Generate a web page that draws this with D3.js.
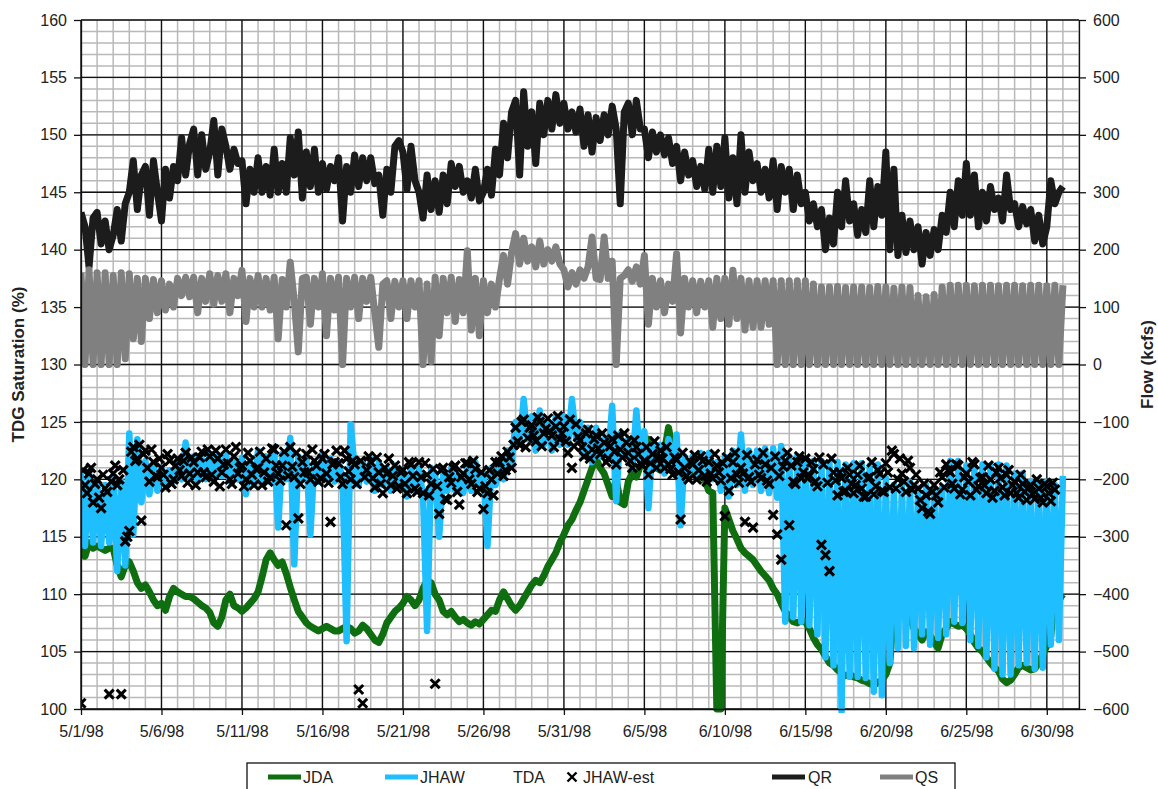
<!DOCTYPE html>
<meta charset="utf-8">
<style>
body {
  margin: 0;
  background: #fff;
}
svg text {
  font-family: Arial, "Liberation Sans", sans-serif;
  fill: #222;
}
.minor line {
  stroke: #b9b9b9;
  stroke-width: 1.5px;
}
.major line {
  stroke: #111;
  stroke-width: 1.3px;
}
.axis path, .axis line {
  stroke: #111;
  stroke-width: 1.3px;
}
.axis text {
  font-size: 16px;
}
.series {
  fill: none;
  stroke-linejoin: round;
}
.title {
  font-size: 17px;
  font-weight: bold;
}
.legend text {
  font-size: 16px;
}
</style>
<body>
<script src="https://d3js.org/d3.v7.min.js"></script>
<script>

var width = 1158,
    height = 789;

// series are sampled every 6 hours starting 5/1/98 00:00
var startDate = new Date(1998, 4, 1),
    endDate = new Date(1998, 6, 2),
    stepHours = 6;

var seriesNames = ["JDA", "JHAW", "TDA", "JHAW-est", "QR", "QS"];
var dateTicks = ["5/1/98", "5/6/98", "5/11/98", "5/16/98", "5/21/98", "5/26/98", "5/31/98",
                 "6/5/98", "6/10/98", "6/15/98", "6/20/98", "6/25/98", "6/30/98"];
var tdgTicks = [100, 105, 110, 115, 120, 125, 130, 135, 140, 145, 150, 155, 160];
var flowTicks = [-600, -500, -400, -300, -200, -100, 0, 100, 200, 300, 400, 500, 600];

// QR - river flow (kcfs), right axis
var qrFlow = [
  265, 240, 170, 255,  265, 210, 250, 200,  225, 270, 215, 280,  300, 355, 270, 330,
  345, 260, 355, 300,  250, 340, 290, 345,  320, 395, 330, 385,  410, 330, 400, 340,
  370, 425, 330, 410,  380, 340, 375, 350,  355, 280, 340, 300,  360, 300, 345, 295,
  375, 300, 350, 300,  395, 330, 405, 290,  370, 310, 375, 300,  350, 305, 345, 320,
  360, 250, 345, 300,  365, 310, 360, 320,  360, 315, 330, 260,  340, 300, 380, 390,
  370, 305, 380, 320,  300, 255, 330, 270,  320, 265, 330, 280,  350, 310, 345, 300,
  320, 290, 340, 285,  300, 340, 295, 375,  330, 420, 360, 440,  460, 330, 475, 380,
  440, 350, 455, 400,  460, 410, 470, 420,  455, 410, 440, 405,  445, 380, 435, 370,
  430, 390, 435, 400,  450, 410, 280, 440,  455, 400, 460, 410,  410, 360, 405, 370,
  400, 365, 395, 350,  380, 320, 370, 330,  355, 310, 345, 305,  375, 300, 380, 310,
  395, 290, 360, 280,  400, 300, 370, 320,  350, 300, 340, 290,  355, 270, 345, 300,
  340, 270, 330, 280,  300, 250, 280, 240,  270, 200, 255, 210,  300, 240, 320, 250,
  280, 225, 270, 230,  320, 240, 310, 260,  370, 200, 340, 190,  260, 195, 250, 200,
  240, 175, 230, 190,  235, 200, 260, 230,  300, 240, 320, 260,  350, 260, 330, 240,
  300, 250, 310, 270,  290, 250, 330, 270,  280, 240, 275, 245,  270, 215, 260, 210,
  240, 320, 280, 300,  310
];

// QS - spill (kcfs), right axis
var qsFlow = [
  160, 0, 165, 0,  160, 0, 160, 0,  155, 0, 160, 10,  158, 45, 150, 40,
  150, 80, 148, 90,  146, 95, 140, 100,  150, 120, 152, 118,  152, 90, 150, 110,
  158, 105, 155, 110,  158, 90, 150, 120,  164, 75, 150, 100,  155, 100, 150, 95,
  152, 45, 148, 100,  178, 110, 22, 150,  152, 70, 150, 100,  158, 50, 150, 95,
  152, 0, 150, 100,  152, 80, 150, 110,  152, 90, 30, 140,  146, 80, 145, 100,
  146, 80, 146, 100,  146, 0, 140, 5,  152, 50, 150, 90,  152, 75, 148, 90,
  198, 60, 150, 50,  146, 90, 140, 100,  150, 190, 140, 195,  228, 175, 220, 180,
  205, 170, 215, 175,  200, 180, 205, 175,  165, 135, 160, 140,  165, 150, 170, 222,
  150, 148, 222, 150,  180, 0, 150, 155,  165, 145, 170, 140,  190, 70, 150, 100,
  146, 90, 140, 110,  193, 55, 150, 100,  146, 90, 145, 100,  146, 65, 150, 80,
  150, 70, 164, 80,  150, 60, 146, 65,  146, 65, 146, 70,  146, 0, 146, 0,
  146, 0, 146, 0,  146, 0, 140, 0,  135, 0, 135, 0,  136, 0, 134, 0,
  135, 0, 135, 0,  134, 0, 136, 0,  135, 0, 133, 0,  135, 0, 134, 0,
  120, 0, 118, 0,  122, 0, 135, 0,  138, 0, 138, 0,  138, 0, 137, 0,
  138, 0, 138, 0,  137, 0, 138, 0,  138, 0, 137, 0,  138, 0, 138, 0,
  137, 0, 138, 0,  138
];

// JDA - TDG saturation (%), left axis
var jdaTdg = [
  115, 113.3, 114.5, 114,  114.2, 114, 113.8, 114,  114, 112.5, 111.5, 112.5,  112.8, 112, 111, 110.5,
  110.8, 110.2, 109.5, 109,  109.2, 108.6, 109.8, 110.5,  110.2, 110, 109.8, 109.8,  109.6, 109.3, 109, 108.8,
  108.4, 107.5, 107.2, 108,  109.5, 110, 109, 108.8,  108.5, 108.8, 109.2, 109.6,  110.2, 111.5, 113, 113.6,
  113, 112.5, 112.8, 111.8,  110.6, 109.5, 108.5, 108,  107.5, 107.2, 107, 106.8,  107, 107.2, 107, 106.8,
  106.8, 107, 107.2, 107,  106.6, 106.8, 107.3, 107,  106.5, 106, 105.8, 106.5,  107.5, 108, 108.5, 108.8,
  109.2, 109.8, 109.5, 109,  109.5, 110.5, 111.2, 111,  110, 109.5, 108.5, 108.2,  108.5, 108, 107.6, 107.8,
  107.5, 107.3, 107.6, 107.4,  107.8, 108.2, 108.6, 108.5,  109.5, 110.2, 109.6, 109,  108.6, 109, 109.6, 110.2,
  110.8, 111.2, 111, 111.6,  112.4, 113, 113.6, 114.5,  115.2, 116, 116.5, 117.3,  118, 119, 120, 121,
  121.8, 121, 120.5, 119.5,  118.5, 120, 118, 117.8,  119.8, 120.5, 120.2, 121.2,  121.5, 123.5, 122, 121,
  120.8, 122.5, 124.5, 122.5,  121.6, 121, 121.2, 120.8,  120.5, 120.2, 120.6, 120,  119, 118.8, 100, 100,
  117.5, 116.5, 115.5, 114.8,  114, 113.6, 113.3, 113,  112.5, 112, 111.6, 111.2,  110.5, 110, 109.2, 108.5,
  108, 107.6, 107.5, 107.7,  107.6, 107, 106.2, 105.6,  105.2, 104.6, 104, 103.8,  103.4, 103.1, 102.9, 103,
  102.8, 102.7, 102.5, 102.4,  102.2, 102.1, 102.3, 102.5,  103, 104, 109, 111,  110, 109, 108, 107,
  106.5, 106, 106.7, 106.4,  105.8, 105.3, 106.5, 107,  107.6, 107.4, 107.2, 107.3,  107, 106.5, 105.8, 105.3,
  105, 104.5, 104, 103.6,  103.3, 102.6, 102.3, 102.5,  103, 103.6, 103.8, 103.6,  103.4, 103.5, 104, 104.8,
  105.5, 106.3, 110.5, 109.5,  110
];

// JHAW - TDG saturation (%), left axis
var jhawTdg = [
  120.8, 114.2, 120.5, 114.5,  119.8, 114.2, 119.5, 114.5,  120.2, 112, 119.8, 112.5,  124, 115.2, 123.5, 118,
  121.6, 118.7, 121.2, 119,  121, 119.5, 120.8, 119.8,  121.5, 120, 123.2, 120.2,  122, 119.8, 121.8, 120,
  122.2, 120, 122, 120.3,  122.2, 119.8, 121.5, 120,  121.9, 118.7, 121.5, 119.5,  122.5, 120, 122, 119.8,
  122.5, 115.8, 122.2, 120,  123.6, 112.6, 122, 120,  122, 115.2, 121.5, 119.8,  122.2, 120, 121.8, 119.8,
  121.5, 120, 105.9, 124.8,  121, 119.5, 121.5, 119.8,  121.8, 119, 121.5, 119.5,  121, 119, 121.2, 119.5,
  120.8, 118.5, 121, 119,  121, 118.5, 106.8, 121,  120.5, 115, 120.5, 119,  121, 119, 120.5, 118.8,
  121, 119, 121.5, 119.5,  120.5, 114.2, 121, 119.5,  121.5, 120, 122.5, 121.5,  125, 123, 127, 123.5,
  125.5, 122.5, 126, 123,  125, 122.5, 125.5, 123,  125.5, 123, 127, 123.5,  125, 122, 124.5, 121.5,
  124.5, 122, 123.5, 122,  126.4, 118.1, 124, 122,  123.5, 121, 126, 121.5,  124.2, 117.5, 123, 121,
  123, 120.5, 123.5, 121,  123.9, 116, 122, 120.5,  122, 120.5, 122.3, 120.2,  122.3, 120, 121.5, 119,
  122, 118.5, 122.5, 119.5,  123.9, 119, 122.5, 119.5,  122.5, 119, 122.7, 118.8,  122.7, 118.4, 122.9, 107.6,
  122, 108, 122, 107.6,  121.6, 107.3, 121.6, 106.5,  121.6, 104.5, 121.4, 103.8,  121.5, 99.8, 121.3, 102.8,
  121.4, 102.8, 121.4, 102.7,  121.2, 101.5, 121.3, 101.2,  120.1, 104, 119.5, 105.3,  119.5, 105.5, 119.8, 105.3,
  119.2, 106.5, 119.5, 105.6,  119.2, 106.2, 119.3, 106.5,  121.6, 107.6, 121.6, 107.5,  121.2, 106, 121, 105.5,
  121.3, 104.5, 121.2, 103.5,  121.3, 103, 121.2, 103,  120.5, 103.8, 120.5, 104,  119.8, 103.5, 119.8, 103.6,
  119.8, 105.6, 119.5, 106,  120.3
];

// TDA - no readings in this period
var tdaTdg = [];

// JHAW-est - estimated TDG (%), left axis, drawn as x markers
// readings on the hour (00, 06, 12, 18)
var jhawEst = [
  100.5, 119.5, 120.5, 118,  120, 117.5, 119.2, 101.3,  120.5, 119.5, 101.3, 114.6,  115.5, 122.8, 121.8, 116.4,
  122.5, 119.8, 121.5, 120.2,  121, 119.3, 121.6, 120,  121.8, 120.3, 122.3, 120.5,  121.5, 120.6, 122.4, 120.2,
  122, 119.8, 121.8, 120.6,  122.6, 120, 122, 120.5,  121.2, 120, 121.6, 119.5,  121, 119.5, 121.8, 120.2,
  122.6, 120.5, 121.2, 116,  122.8, 120.2, 116.6, 121.5,  122.2, 120, 121.6, 119.8,  121.8, 120.5, 116.3, 121.5,
  121.4, 119.6, 121.8, 120,  121.3, 101.7, 100.5, 120.8,  121.5, 119.3, 120.6, 118.8,  120.5, 119.5, 121.2, 119.4,
  120.8, 118.8, 121.3, 119.2,  121.5, 118.8, 120.4, 119.6,  102.2, 117, 121, 118.2,  119.7, 121.2, 117.8, 120.5,
  121.4, 119.6, 120.9, 119.2,  117.4, 118.8, 120, 121.5,  121.5, 120.3, 122.4, 121,  124.5, 123, 125.2, 123.6,
  124.7, 123.3, 125, 124,  125.3, 123.8, 124.6, 123.5,  124.6, 122.3, 121, 124.8,  123.4, 122, 124.3, 122.6,
  123.8, 122.2, 123.2, 121.8,  123.5, 121.3, 122.6, 124,  122.3, 121, 122.8, 121.4,  121.6, 120.4, 122.2, 121,
  122.5, 121, 121.3, 120.4,  121.7, 116.5, 121, 120,  121.3, 120, 122, 120.3,  121.5, 120.1, 121.2, 119.9,
  116.8, 119, 121.5, 120.4,  121, 116.3, 120.2, 115.8,  121.7, 120.1, 121.3, 119.6,  116.9, 115.2, 113, 121.6,
  116, 119.8, 121.5, 120.1,  121.8, 120.3, 120.9, 119.4,  114.3, 113.4, 112, 120.6,  118.6, 120.1, 119, 120.4,
  118.8, 120.4, 119.2, 118.5,  120.2, 118.7, 120.8, 119,  121.4, 119.3, 122.2, 120,  120.5, 118.9, 121, 119.5,
  119.2, 117.5, 118.6, 117,  119.5, 118, 120.2, 121.3,  120.6, 119.2, 121.2, 119.1,  120.5, 118.6, 121.3, 119.4,
  120.2, 118.8, 120, 119,  121, 119.3, 120.4, 118.8,  119.8, 118.4, 119.6, 118.2,  119.5, 118.3, 119.2, 118,
  119.4, 118.1, 119.1
];

// readings three hours later (03, 09, 15, 21)
var jhawEstLate = [
  120.8, 118.8, 121, 119.6,  118.4, 120.4, 118.9, 119.8,  121.2, 120, 120.8, 115,  122.4, 121.6, 123, 122.2,
  121, 122.6, 120.3, 121.8,  120.4, 122.2, 119.6, 121.2,  120.8, 121.6, 119.7, 121.9,  119.5, 121.9, 120.6, 122.6,
  120.4, 122.5, 119.4, 121.3,  121.4, 119.6, 122.8, 121,  119.4, 122.3, 120.4, 120.9,  122.4, 120.6, 119.8, 122.7,
  121.2, 119.9, 122.4, 120.3,  121.1, 122.3, 119.6, 120.6,  120.6, 122.6, 121.2, 120.1,  122.2, 119.7, 121.3, 122.5,
  120.2, 122.5, 120.7, 121.6,  119.6, 121.6, 120.2, 122,  120.1, 121.9, 119.6, 121,  121.8, 120.3, 119.2, 120.6,
  119.6, 121.5, 120.3, 118.9,  120.2, 121.4, 118.6, 120.9,  119.4, 120.8, 118.3, 120.2,  121, 118.9, 120.2, 121.4,
  120, 121.6, 118.9, 120.6,  119.4, 120.8, 118.6, 120.5,  122, 120.8, 121.9, 123,  123.3, 125, 122.8, 124.5,
  123.8, 125.4, 122.9, 124.4,  124.2, 122.8, 125.5, 124,  123.3, 125.2, 122.9, 123.7,  122.8, 124, 121.8, 123.5,
  122.7, 124, 121.5, 122.9,  122.4, 123.8, 121.9, 123.2,  121.6, 123.4, 122.2, 121.2,  122.8, 121.4, 123.3, 121.8,
  121.8, 122.8, 120.9, 121.9,  120.6, 122.3, 120.3, 121.5,  122.1, 120.8, 121.6, 119.8,  120.5, 122.2, 120.6, 121.4,
  121.9, 120.1, 122.3, 119.7,  120.5, 122.1, 119.8, 121.3,  120.4, 122.3, 119.9, 121,  122, 120.3, 121.1, 122.3,
  121.2, 119.6, 122, 120.6,  120.1, 121.5, 119.8, 121.9,  121.3, 119.7, 121.8, 119.9,  120.6, 118.9, 121, 119.6,
  119.5, 121.2, 118.5, 120.1,  121.5, 119.4, 120.5, 118.9,  120.6, 122.5, 119.2, 121.8,  119.8, 121.6, 119.1, 120.4,
  118.2, 119.6, 117.2, 118.9,  118.6, 120.6, 119.3, 120.8,  119.6, 121.3, 118.7, 120.2,  119.8, 121.5, 119.1, 120.1,
  119.5, 121.2, 118.4, 120.6,  120.1, 118.6, 120.8, 119.5,  118.8, 120.4, 118.9, 119.3,  118.7, 120, 118.4, 119.6,
  118.8, 119.7
];

var plotLeft = 81, plotRight = 1079, plotTop = 20, plotBottom = 709;

var svg = d3.select("body").append("svg")
    .attr("width", width)
    .attr("height", height);

var x = d3.scaleTime()
    .domain([startDate, endDate])
    .range([plotLeft, plotRight]);

var yTdg = d3.scaleLinear()
    .domain([100, 160])
    .range([plotBottom, plotTop]);

var yFlow = d3.scaleLinear()
    .domain([-600, 600])
    .range([plotBottom, plotTop]);

var parseTick = d3.timeParse("%m/%d/%y");
var majorDates = dateTicks.map(function(s) { return parseTick(s); });

function timeAt(i, offsetHours) {
  return d3.timeHour.offset(startDate, i * stepHours + (offsetHours || 0));
}

// grid: thin gray every day / every 1%, black every 5 days / every 5%
var minor = svg.append("g").attr("class", "minor");
minor.selectAll(".v")
    .data(d3.timeDay.range(startDate, d3.timeDay.offset(endDate, 1)))
  .enter().append("line")
    .attr("x1", function(d) { return x(d); })
    .attr("x2", function(d) { return x(d); })
    .attr("y1", plotTop)
    .attr("y2", plotBottom);
minor.selectAll(".h")
    .data(d3.range(100, 161, 1))
  .enter().append("line")
    .attr("x1", plotLeft)
    .attr("x2", plotRight)
    .attr("y1", function(d) { return yTdg(d); })
    .attr("y2", function(d) { return yTdg(d); });

var major = svg.append("g").attr("class", "major");
major.selectAll(".v")
    .data(majorDates)
  .enter().append("line")
    .attr("x1", function(d) { return x(d); })
    .attr("x2", function(d) { return x(d); })
    .attr("y1", plotTop)
    .attr("y2", plotBottom);
major.selectAll(".h")
    .data(tdgTicks)
  .enter().append("line")
    .attr("x1", plotLeft)
    .attr("x2", plotRight)
    .attr("y1", function(d) { return yTdg(d); })
    .attr("y2", function(d) { return yTdg(d); });

svg.append("defs").append("clipPath")
    .attr("id", "plot")
  .append("rect")
    .attr("x", plotLeft)
    .attr("y", plotTop)
    .attr("width", plotRight - plotLeft)
    .attr("height", plotBottom - plotTop + 4);

var plot = svg.append("g").attr("clip-path", "url(#plot)");

var tdgLine = d3.line()
    .defined(function(d) { return d != null; })
    .x(function(d, i) { return x(timeAt(i)); })
    .y(function(d) { return yTdg(d); });

var flowLine = d3.line()
    .defined(function(d) { return d != null; })
    .x(function(d, i) { return x(timeAt(i)); })
    .y(function(d) { return yFlow(d); });

plot.append("path")
    .datum(jdaTdg)
    .attr("class", "series")
    .attr("d", tdgLine)
    .style("stroke", "#0f6e0f")
    .style("stroke-width", 7);

plot.append("path")
    .datum(jhawTdg)
    .attr("class", "series")
    .attr("d", tdgLine)
    .style("stroke", "#1ebeff")
    .style("stroke-width", 6.5);

plot.append("path")
    .datum(tdaTdg)
    .attr("class", "series")
    .attr("d", tdgLine);

var xMark = "M-4.5,-4.5L4.5,4.5M4.5,-4.5L-4.5,4.5";

var estPoints = jhawEst.map(function(v, i) { return {t: timeAt(i), v: v}; })
    .concat(jhawEstLate.map(function(v, i) { return {t: timeAt(i, 3), v: v}; }));

plot.selectAll(".est")
    .data(estPoints)
  .enter().append("path")
    .attr("class", "est")
    .attr("transform", function(d) { return "translate(" + x(d.t) + "," + yTdg(d.v) + ")"; })
    .attr("d", xMark)
    .style("stroke", "#000")
    .style("stroke-width", 3.1);

plot.append("path")
    .datum(qrFlow)
    .attr("class", "series")
    .attr("d", flowLine)
    .style("stroke", "#1c1c1c")
    .style("stroke-width", 7);

plot.append("path")
    .datum(qsFlow)
    .attr("class", "series")
    .attr("d", flowLine)
    .style("stroke", "#808080")
    .style("stroke-width", 7);

// axes
svg.append("g")
    .attr("class", "axis")
    .attr("transform", "translate(0," + plotBottom + ")")
    .call(d3.axisBottom(x)
      .tickValues(majorDates)
      .tickFormat(function(d, i) { return dateTicks[i]; })
      .tickSize(6)
      .tickSizeOuter(0)
      .tickPadding(11));

svg.append("g")
    .attr("class", "axis")
    .attr("transform", "translate(" + plotLeft + ",0)")
    .call(d3.axisLeft(yTdg)
      .tickValues(tdgTicks)
      .tickSize(7)
      .tickSizeOuter(0)
      .tickPadding(7));

svg.append("g")
    .attr("class", "axis")
    .attr("transform", "translate(" + plotRight + ",0)")
    .call(d3.axisRight(yFlow)
      .tickValues(flowTicks)
      .tickSize(7)
      .tickSizeOuter(0)
      .tickPadding(7));

svg.append("text")
    .attr("class", "title")
    .attr("transform", "translate(24," + ((plotTop + plotBottom) / 2) + ") rotate(-90)")
    .attr("text-anchor", "middle")
    .text("TDG Saturation (%)");

svg.append("text")
    .attr("class", "title")
    .attr("transform", "translate(1153," + ((plotTop + plotBottom) / 2) + ") rotate(-90)")
    .attr("text-anchor", "middle")
    .text("Flow (kcfs)");

// legend
var legend = svg.append("g").attr("class", "legend");
legend.append("rect")
    .attr("x", 247)
    .attr("y", 763)
    .attr("width", 708)
    .attr("height", 40)
    .style("fill", "#fff")
    .style("stroke", "#111")
    .style("stroke-width", 1.3);

var legendStyle = [
  {x: 268, tx: 35, color: "#0f6e0f", kind: "line"},
  {x: 385, tx: 35, color: "#1ebeff", kind: "line"},
  {x: 478, tx: 35, color: null, kind: "none"},
  {x: 552, tx: 31, color: "#000", kind: "mark"},
  {x: 772, tx: 36, color: "#1c1c1c", kind: "line"},
  {x: 880, tx: 35, color: "#808080", kind: "line"}
];

var item = legend.selectAll("g.item")
    .data(seriesNames)
  .enter().append("g")
    .attr("class", "item")
    .attr("transform", function(d, i) { return "translate(" + legendStyle[i].x + ",777)"; });

item.filter(function(d, i) { return legendStyle[i].kind == "line"; })
  .append("line")
    .attr("x1", 0)
    .attr("x2", 33)
    .style("stroke", function(d) { return legendStyle[seriesNames.indexOf(d)].color; })
    .style("stroke-width", 5);

item.filter(function(d, i) { return legendStyle[i].kind == "mark"; })
  .append("path")
    .attr("transform", "translate(20,0)")
    .attr("d", xMark)
    .style("stroke", "#000")
    .style("stroke-width", 2.4);

item.append("text")
    .attr("x", function(d, i) { return legendStyle[i].tx; })
    .attr("y", 6)
    .text(function(d) { return d; });

</script>
</body>
